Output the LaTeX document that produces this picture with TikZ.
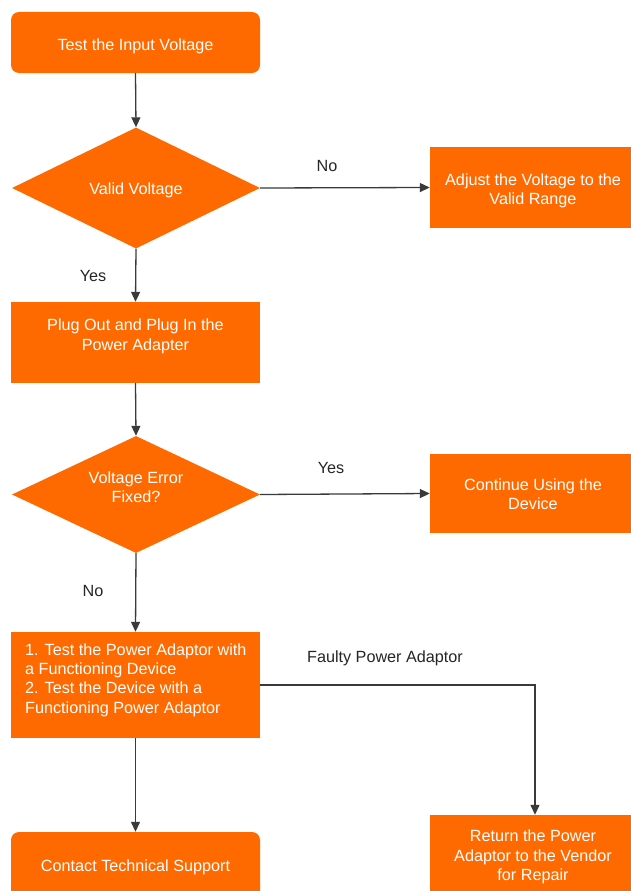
\documentclass[tikz,border=0pt]{standalone}
\usepackage{fontspec}
\setmainfont{Liberation Sans}
\usetikzlibrary{shapes.geometric,arrows.meta}
\definecolor{flow}{RGB}{255,106,0}
\definecolor{wire}{RGB}{58,58,58}
\tikzset{
  txt/.style={font=\fontsize{16.2}{19.4}\selectfont, text=white, align=center, inner sep=0pt},
  box/.style={fill=flow, draw=none, inner sep=0pt},
  rbox/.style={box, rounded corners=8pt},
  dia/.style={diamond, fill=flow, draw=none, inner sep=0pt, minimum width=248pt},
  lbl/.style={font=\fontsize{16.2}{19}\selectfont, text=black!85, inner sep=0pt},
  conn/.style={draw=wire, line width=1.3pt, -{Triangle[length=10pt,width=9pt]}}
}
\begin{document}
\begin{tikzpicture}[x=1pt,y=-1pt]
\useasboundingbox (0,0) rectangle (631,891);
\clip (0,0) rectangle (631,891);
\fill[white] (0,0) rectangle (631,891);
% shapes
\node[rbox, minimum width=249pt, minimum height=61pt] (start) at (135.5,42.5) {};
\node[dia, minimum height=121pt] (d1) at (136,188) {};
\node[box, minimum width=201pt, minimum height=81pt] (adj) at (530.5,187.5) {};
\node[box, minimum width=249pt, minimum height=81pt] (plug) at (135.5,342.5) {};
\node[dia, minimum height=117pt] (d2) at (136,494.5) {};
\node[box, minimum width=201pt, minimum height=79pt] (cont) at (530.5,493.5) {};
\node[box, minimum width=249pt, minimum height=106pt] (test) at (135.5,685) {};
\node[box, minimum width=201pt, minimum height=82pt] (ret) at (530.5,856) {};
\node[rbox, minimum width=249pt, minimum height=68pt] (contact) at (135.5,866) {};
% texts
\node[txt] (starttxt) at (135.5,46.5) {Test the Input Voltage};
\node[txt] (d1txt) at (136,190.5) {Valid Voltage};
\node[txt] (adjtxt) at (533,191) {Adjust the Voltage to the\\Valid Range};
\node[txt] (plugtxt) at (135.5,336.5) {Plug Out and Plug In the\\Power Adapter};
\node[txt] (d2txt) at (136,487.5) {Voltage Error\\Fixed?};
\node[txt] (conttxt) at (533,494.5) {Continue Using the\\Device};
\node[txt, align=left, anchor=west] (testtxt) at (25,680) {1. Test the Power Adaptor with\\a Functioning Device\\2. Test the Device with a\\Functioning Power Adaptor};
\node[txt] (rettxt) at (533,857) {Return the Power\\Adaptor to the Vendor\\for Repair};
\node[txt] (contacttxt) at (135.5,867.5) {Contact Technical Support};
% labels
\node[lbl] (lno1) at (327,166) {No};
\node[lbl] (lyes1) at (93,276) {Yes};
\node[lbl] (lyes2) at (331,468) {Yes};
\node[lbl] (lno2) at (93,591) {No};
\node[lbl] (lfaulty) at (385,658) {Faulty Power Adaptor};
% connectors
\draw[conn] (start.south) -- (d1.north);
\draw[conn] (d1.east) -- (adj.west);
\draw[conn] (d1.south) -- (plug.north);
\draw[conn] (plug.south) -- (d2.north);
\draw[conn] (d2.east) -- (cont.west);
\draw[conn] (d2.south) -- (test.north);
\coordinate (retin) at ([xshift=4.5pt]ret.north);
\draw[conn] (test.east) -| (retin);
\draw[conn] (test.south) -- (contact.north);
\end{tikzpicture}
\end{document}
